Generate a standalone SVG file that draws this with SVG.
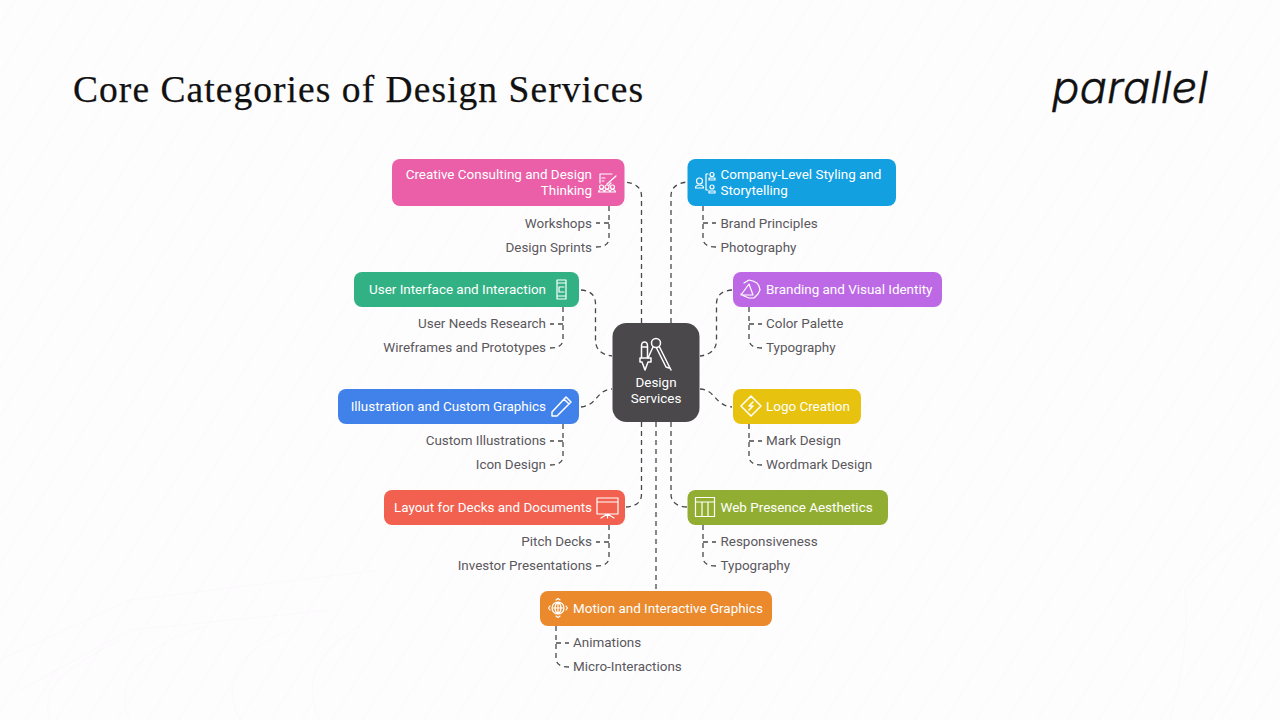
<svg xmlns="http://www.w3.org/2000/svg" width="1280" height="720" viewBox="0 0 1280 720">
<style>
.n{font-family:Roboto,"Liberation Sans",sans-serif;font-size:13.45px;fill:#fff}
.s{font-family:Roboto,"Liberation Sans",sans-serif;font-size:13.45px;fill:#5a585c}
.e{text-anchor:end}
.m{text-anchor:middle}
.c{fill:none;stroke:#48484a;stroke-width:1.3;stroke-dasharray:5 4}
.i{fill:none;stroke:#fff;stroke-width:1.2;stroke-linejoin:round;stroke-linecap:round}
.b{fill:none;stroke:#fbf9fb;stroke-width:1.2}
</style>
<defs>
<pattern id="hatch" width="26" height="26" patternUnits="userSpaceOnUse" patternTransform="rotate(32)">
<path d="M13 0V26" stroke="#fcfafd" stroke-width="1.400"/>
</pattern>
</defs>
<rect width="1280" height="720" fill="#fefdfe"/>
<g id="background">
<rect width="1280" height="720" fill="url(#hatch)"/>
<path class="b" d="M0 660L130 600L380 570M20 690L130 630L330 610M50 720C40 690 60 670 120 640M130 720C110 680 150 640 210 625M240 720C220 680 240 650 290 630M320 720C300 680 320 650 360 625M1170 720C1180 680 1190 640 1185 590C1200 570 1230 540 1280 500M1210 720C1240 680 1250 640 1262 600"/>
</g>
<text id="title" x="73" y="102" font-family="'Liberation Serif','DejaVu Serif',serif" font-size="37.5" fill="#111" stroke="#111" stroke-width="0.25" textLength="570" lengthAdjust="spacing">Core Categories of Design Services</text>
<text id="logo" x="1052" y="103" font-family="Inter,'Liberation Sans',sans-serif" font-weight="300" font-style="italic" font-size="44" fill="#111" stroke="#111" stroke-width="0.4" textLength="156" lengthAdjust="spacingAndGlyphs">parallel</text>
<g id="connectors">
<path class="c" d="M641.500 323V196Q641.500 184 625 182"/>
<path class="c" d="M671 323V196Q671 184 687 182"/>
<path class="c" d="M581 290Q595.500 291 595.500 304V340Q595.500 354 612 356"/>
<path class="c" d="M732 290Q716.500 291 716.500 304V340Q716.500 354 700 356"/>
<path class="c" d="M581 407C598 405 596 390 612 389"/>
<path class="c" d="M700 389C716 390 714 405 732 407"/>
<path class="c" d="M641.500 422V494Q641.500 506 626 507"/>
<path class="c" d="M671 422V494Q671 506 687 507"/>
<path class="c" d="M656 422V591"/>
<path class="c" d="M609 206V238Q609 247 596 247M609 223H596"/>
<path class="c" d="M703 206V238Q703 247 716 247M703 223H716"/>
<path class="c" d="M563 307V339Q563 348 550 348M563 324H550"/>
<path class="c" d="M749 307V339Q749 348 762 348M749 324H762"/>
<path class="c" d="M563 424V456Q563 465 550 465M563 441H550"/>
<path class="c" d="M749 424V456Q749 465 762 465M749 441H762"/>
<path class="c" d="M609 525V557Q609 566 596 566M609 542H596"/>
<path class="c" d="M703 525V557Q703 566 716 566M703 542H716"/>
<path class="c" d="M556 626V658Q556 667 569 667M556 643H569"/>
</g>
<g id="center">
<rect x="612.500" y="323" width="87" height="99" rx="14" fill="#4a484b"/>
<g class="i" style="stroke-width:1.500">
<path d="M641.500 346Q641.500 342 644.500 342Q647.500 342 647.500 346V358H641.500ZM641.500 347H647.500M640 358H651V362H648L645 370L642 362H640Z"/>
<circle cx="656" cy="343" r="4.500"/>
<path d="M653 347L648 358M659.500 347L671 370M656.500 348L666 367L669 368"/>
</g>
<text class="n m" x="656" y="387">Design</text>
<text class="n m" x="656" y="403">Services</text>
</g>
<g id="node-creative">
<rect x="392" y="159" width="232.500" height="47" rx="8" fill="#ea5fa8"/>
<text class="n e" x="592" y="179">Creative Consulting and Design</text>
<text class="n e" x="592" y="195">Thinking</text>
<g class="i"><path d="M600 183V174H612M602 178H605M602 181H604M607 184L616 176M611 183L609 185"/><circle cx="601.500" cy="187" r="2"/><circle cx="607" cy="187" r="2"/><circle cx="612.500" cy="187" r="2"/><path d="M598.500 192Q599 189.500 601.500 189.500Q604 189.500 604.500 192ZM604.500 192Q605 189.500 607 189.500Q609.500 189.500 610 192ZM610 192Q610.500 189.500 612.500 189.500Q615 189.500 615.500 192Z"/></g>
<text class="s e" x="592" y="228">Workshops</text>
<text class="s e" x="592" y="252">Design Sprints</text>
</g>
<g id="node-company">
<rect x="687.500" y="159" width="208.500" height="47" rx="8" fill="#13a0e0"/>
<text class="n" x="720.500" y="179">Company-Level Styling and</text>
<text class="n" x="720.500" y="195">Storytelling</text>
<g class="i"><circle cx="699.500" cy="181" r="3"/><path d="M695.500 188Q695.500 185 699.500 185Q703.500 185 703.500 188ZM708 174H706V190H708"/><circle cx="712" cy="174.500" r="2"/><path d="M709 180V178H715V180Z"/><circle cx="712" cy="187" r="2"/><path d="M709 193V191H715V193Z"/></g>
<text class="s" x="720.500" y="228">Brand Principles</text>
<text class="s" x="720.500" y="252">Photography</text>
</g>
<g id="node-ui">
<rect x="354" y="272" width="225" height="35" rx="8" fill="#32b184"/>
<text class="n e" x="546" y="294">User Interface and Interaction</text>
<path class="i" d="M557 280H566V299H557ZM557 283H566M557 296H566M564 287H559V292H564"/>
<text class="s e" x="546" y="328">User Needs Research</text>
<text class="s e" x="546" y="352">Wireframes and Prototypes</text>
</g>
<g id="node-branding">
<rect x="733" y="272" width="209" height="35" rx="8" fill="#bd69e6"/>
<text class="n" x="766" y="294">Branding and Visual Identity</text>
<path class="i" d="M744 283L749 280L753 281L757 283L759 286L760 290L758 294L754 298L749 298L744 296L741 294M749 284L741 295H753Z"/>
<text class="s" x="766" y="328">Color Palette</text>
<text class="s" x="766" y="352">Typography</text>
</g>
<g id="node-illustration">
<rect x="338" y="389" width="241" height="35" rx="8" fill="#4182ea"/>
<text class="n e" x="546" y="411">Illustration and Custom Graphics</text>
<path class="i" style="stroke-width:1.500" d="M552 412L566 397L571 402L557 416L552 416ZM564 399L569 404"/>
<text class="s e" x="546" y="445">Custom Illustrations</text>
<text class="s e" x="546" y="469">Icon Design</text>
</g>
<g id="node-logo">
<rect x="733" y="389" width="128" height="35" rx="8" fill="#e7c30f"/>
<text class="n" x="766" y="411">Logo Creation</text>
<path class="i" style="stroke-width:1.500" d="M751 396L761 406L751 416L741 406ZM753 402L749 406H753L749 410"/>
<text class="s" x="766" y="445">Mark Design</text>
<text class="s" x="766" y="469">Wordmark Design</text>
</g>
<g id="node-layout">
<rect x="384" y="490" width="241" height="35" rx="8" fill="#f2604f"/>
<text class="n e" x="592" y="512">Layout for Decks and Documents</text>
<path class="i" d="M597 498H618V514H597ZM597 502H618M607.500 514V518M601 518L607.500 514L614 518"/>
<text class="s e" x="592" y="546">Pitch Decks</text>
<text class="s e" x="592" y="570">Investor Presentations</text>
</g>
<g id="node-web">
<rect x="687.500" y="490" width="200.500" height="35" rx="8" fill="#92ae32"/>
<text class="n" x="720.500" y="512">Web Presence Aesthetics</text>
<path class="i" d="M695.500 497.500H714.500V516.500H695.500ZM695.500 502H714.500M702 502V516.500M708 502V516.500"/>
<text class="s" x="720.500" y="546">Responsiveness</text>
<text class="s" x="720.500" y="570">Typography</text>
</g>
<g id="node-motion">
<rect x="540" y="591" width="232" height="35" rx="8" fill="#ea8a2d"/>
<text class="n" x="573" y="613">Motion and Interactive Graphics</text>
<path class="i" d="M552 608A6 6 0 1 1 564 608A6 6 0 1 1 552 608M552 608H564M558 602V614M558 602C554 605 554 611 558 614M558 602C562 605 562 611 558 614M556 600L558 598.500L560 600M556 616L558 617.500L560 616M550 606L548.500 608L550 610M566 606L567.500 608L566 610"/>
<text class="s" x="573" y="647">Animations</text>
<text class="s" x="573" y="671">Micro-Interactions</text>
</g>
</svg>
